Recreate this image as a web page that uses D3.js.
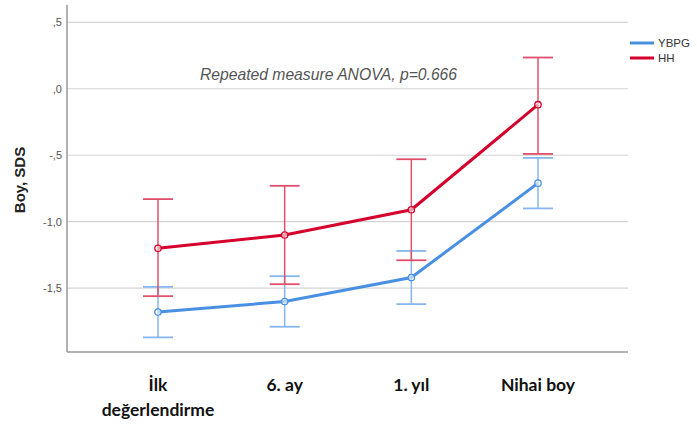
<!DOCTYPE html>
<html><head><meta charset="utf-8">
<script src="https://cdn.jsdelivr.net/npm/d3@7"></script>
<style>body{margin:0;background:#fff}svg{display:block}</style>
</head><body>
<script>
const categories = [["İlk","değerlendirme"],["6. ay"],["1. yıl"],["Nihai boy"]];
const seriesNames = ["YBPG","HH"];
const ybpgMean = [-1.68,-1.60,-1.42,-0.71];
const ybpgLow  = [-1.87,-1.79,-1.62,-0.90];
const ybpgHigh = [-1.49,-1.41,-1.22,-0.52];
const hhMean = [-1.20,-1.10,-0.91,-0.12];
const hhLow  = [-1.56,-1.47,-1.29,-0.49];
const hhHigh = [-0.83,-0.73,-0.53,0.235];
const yTicks = [0.5,0,-0.5,-1.0,-1.5];
const annotation = "Repeated measure ANOVA, p=0.666";
const yTitle = "Boy, SDS";

const W=697,H=432;
const svg=d3.select("body").append("svg").attr("width",W).attr("height",H);
const x=d3.scalePoint().domain(d3.range(categories.length)).range([158,538]);
const y=d3.scaleLinear().domain([-1.98,0.63]).range([352,5]);
const plotL=67, plotR=628;

// grid
svg.append("g").selectAll("line").data(yTicks).join("line")
  .attr("x1",plotL).attr("x2",plotR).attr("y1",d=>y(d)).attr("y2",d=>y(d))
  .attr("stroke","#d4d4d4").attr("stroke-width",1.2);

// y axis
const fmt=d=>d3.format(".1f")(d).replace("\u2212","-").replace(".",",").replace(/^(-?)0,/,"$1,");
const yAxis=d3.axisLeft(y).tickValues(yTicks).tickSize(0).tickPadding(5).tickFormat(fmt);
const gy=svg.append("g").attr("transform",`translate(${plotL},0)`).call(yAxis);
gy.select(".domain").remove();
gy.selectAll("text").attr("font-family","Liberation Sans, Arial").attr("font-size",11).attr("fill","#555");

// axis lines
svg.append("line").attr("x1",plotL).attr("x2",plotL).attr("y1",y(0.63)).attr("y2",352).attr("stroke","#999").attr("stroke-width",1.5);
svg.append("line").attr("x1",plotL).attr("x2",plotR).attr("y1",352).attr("y2",352).attr("stroke","#999").attr("stroke-width",1.5);

// x labels
const xl=svg.append("g");
categories.forEach((c,i)=>{
  const t=xl.append("text").attr("x",x(i)).attr("y",391).attr("text-anchor","middle")
    .attr("font-family","Lato, Carlito, sans-serif").attr("font-weight","bold").attr("font-size",17.5).attr("fill","#111");
  c.forEach((s,j)=>t.append("tspan").attr("x",x(i)).attr("dy",j?25:0).text(s));
});

// y title
svg.append("text").attr("transform",`translate(25,180) rotate(-90)`).attr("text-anchor","middle")
  .attr("font-family","Liberation Sans, Arial").attr("font-weight","bold").attr("font-size",15).attr("fill","#222").text(yTitle);

// annotation
svg.append("text").attr("x",328.5).attr("y",80).attr("text-anchor","middle")
  .attr("font-family","Liberation Sans, Arial").attr("font-style","italic").attr("font-size",15.7).attr("fill","#555").text(annotation);

const series=[
  {name:seriesNames[0],mean:ybpgMean,low:ybpgLow,high:ybpgHigh,color:"#4a90e2",err:"#86b6ee"},
  {name:seriesNames[1],mean:hhMean,low:hhLow,high:hhHigh,color:"#d5002c",err:"#e0506c"}
];
const line=d3.line().x((d,i)=>x(i)).y(d=>y(d));
series.forEach(s=>{
  const g=svg.append("g");
  const idx=d3.range(s.mean.length);
  g.selectAll(".v").data(idx).join("line").attr("x1",i=>x(i)).attr("x2",i=>x(i))
    .attr("y1",i=>y(s.low[i])).attr("y2",i=>y(s.high[i])).attr("stroke",s.err).attr("stroke-width",1.5);
  ["low","high"].forEach(k=>{
    g.selectAll(".c"+k).data(idx).join("line").attr("x1",i=>x(i)-15).attr("x2",i=>x(i)+15)
      .attr("y1",i=>y(s[k][i])).attr("y2",i=>y(s[k][i])).attr("stroke",s.err).attr("stroke-width",1.8);
  });
  g.append("path").datum(s.mean).attr("d",line).attr("fill","none").attr("stroke",s.color).attr("stroke-width",3);
  g.selectAll("circle").data(idx).join("circle").attr("cx",i=>x(i)).attr("cy",i=>y(s.mean[i])).attr("r",3.2)
    .attr("fill","#fff").attr("fill-opacity",0.6).attr("stroke",s.color).attr("stroke-width",1.3);
});

// legend
series.forEach((s,i)=>{
  const ly=43+i*15;
  svg.append("line").attr("x1",630).attr("x2",654).attr("y1",ly).attr("y2",ly).attr("stroke",s.color).attr("stroke-width",3);
  svg.append("text").attr("x",658).attr("y",ly+4).attr("font-family","Liberation Sans, Arial").attr("font-size",11.5).attr("fill","#333").text(s.name);
});
</script>
</body></html>
